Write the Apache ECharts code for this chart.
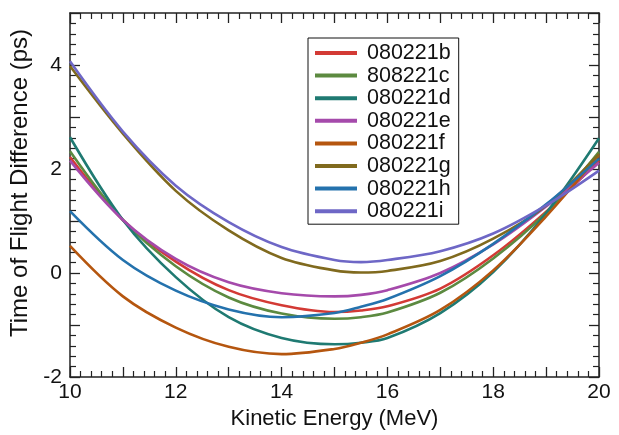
<!DOCTYPE html>
<html>
<head>
<meta charset="utf-8">
<script src="https://cdn.jsdelivr.net/npm/echarts@6/dist/echarts.min.js"></script>
<style>
html,body{margin:0;padding:0;background:#fff;}
#chart{width:619px;height:435px;}
</style>
</head>
<body>
<div id="chart"></div>
<script>
const energy = [10, 11, 12, 13, 14, 15, 15.5, 16, 17, 18, 19, 20];
const seriesNames = ['080221b', '808221c', '080221d', '080221e', '080221f', '080221g', '080221h', '080221i'];
const v080221b = [2.23, 1.02, 0.22, -0.33, -0.62, -0.75, -0.72, -0.64, -0.30, 0.34, 1.18, 2.16];
const v808221c = [2.34, 1.02, 0.13, -0.47, -0.78, -0.88, -0.85, -0.76, -0.38, 0.28, 1.16, 2.33];
const v080221d = [2.61, 1.02, -0.08, -0.85, -1.25, -1.37, -1.34, -1.25, -0.77, 0.02, 1.15, 2.59];
const v080221e = [2.16, 1.02, 0.27, -0.18, -0.39, -0.45, -0.42, -0.33, 0.00, 0.55, 1.28, 2.12];
const v080221f = [0.52, -0.45, -1.05, -1.42, -1.56, -1.46, -1.34, -1.18, -0.71, 0.05, 1.09, 2.27];
const v080221g = [3.98, 2.68, 1.58, 0.82, 0.29, 0.05, 0.01, 0.04, 0.23, 0.66, 1.30, 2.29];
const v080221h = [1.19, 0.25, -0.34, -0.70, -0.85, -0.77, -0.65, -0.50, -0.06, 0.56, 1.32, 2.20];
const v080221i = [4.07, 2.72, 1.68, 0.98, 0.50, 0.25, 0.21, 0.25, 0.42, 0.76, 1.30, 1.97];
const xTickLabels = ['10', '12', '14', '16', '18', '20'];
const yTickLabels = ['-2', '0', '2', '4'];

const allValues = [v080221b, v808221c, v080221d, v080221e, v080221f, v080221g, v080221h, v080221i];
const colors = ['#d33a35', '#5c8a40', '#1f7a72', '#a54aab', '#b5560f', '#806a1e', '#2472ad', '#6e67c6'];

const FONT = 'Liberation Sans, Arial, sans-serif';

const chart = echarts.init(document.getElementById('chart'), null, {renderer: 'canvas'});

function baseAxis(isX, pos, showLabels) {
  return {
    type: 'value',
    position: pos,
    min: isX ? 10 : -2,
    max: isX ? 20 : 5,
    interval: 1,
    axisLine: {show: true, onZero: false, lineStyle: {color: '#222', width: 1.5}},
    axisTick: {show: true, inside: true, length: 10, lineStyle: {color: '#222', width: 1.3}},
    minorTick: {show: true, splitNumber: 5, length: 6, lineStyle: {color: '#222', width: 1.2}},
    splitLine: {show: false},
    axisLabel: {
      show: showLabels,
      fontFamily: FONT,
      fontSize: 21,
      color: '#111',
      margin: isX ? 5 : 8,
      formatter: function (v) {
        const s = String(v);
        return (isX ? xTickLabels : yTickLabels).indexOf(s) >= 0 ? s : '';
      }
    }
  };
}

const xMain = Object.assign(baseAxis(true, 'bottom', true), {
  name: 'Kinetic Energy (MeV)',
  nameLocation: 'middle',
  nameGap: 31,
  nameTextStyle: {fontFamily: FONT, fontSize: 22, color: '#111'}
});
const xTop = baseAxis(true, 'top', false);
const yMain = Object.assign(baseAxis(false, 'left', true), {
  name: 'Time of Flight Difference (ps)',
  nameLocation: 'middle',
  nameGap: 37,
  nameTextStyle: {fontFamily: FONT, fontSize: 24, color: '#111', padding: [0, 0, 0, 24]}
});
const yRight = baseAxis(false, 'right', false);

const series = seriesNames.map(function (name, k) {
  return {
    name: name,
    type: 'line',
    xAxisIndex: 0,
    yAxisIndex: 0,
    smooth: 0.34,
    symbol: 'none',
    lineStyle: {width: 2.6, color: colors[k]},
    itemStyle: {color: colors[k]},
    data: energy.map(function (x, i) { return [x, allValues[k][i]]; })
  };
});

chart.setOption({
  animation: false,
  backgroundColor: '#fff',
  grid: {left: 70, right: 20, top: 13, bottom: 54},
  xAxis: [xMain, xTop],
  yAxis: [yMain, yRight],
  legend: {
    orient: 'vertical',
    left: 308,
    top: 38,
    padding: [4, 8, 2, 7],
    itemGap: 0.6,
    itemWidth: 42,
    itemHeight: 4,
    icon: 'rect',
    backgroundColor: '#fff',
    borderColor: '#111',
    borderWidth: 1,
    textStyle: {fontFamily: FONT, fontSize: 21.5, color: '#111', padding: [0, 0, 0, 5], lineHeight: 20},
    data: seriesNames
  },
  series: series
});
</script>
</body>
</html>
